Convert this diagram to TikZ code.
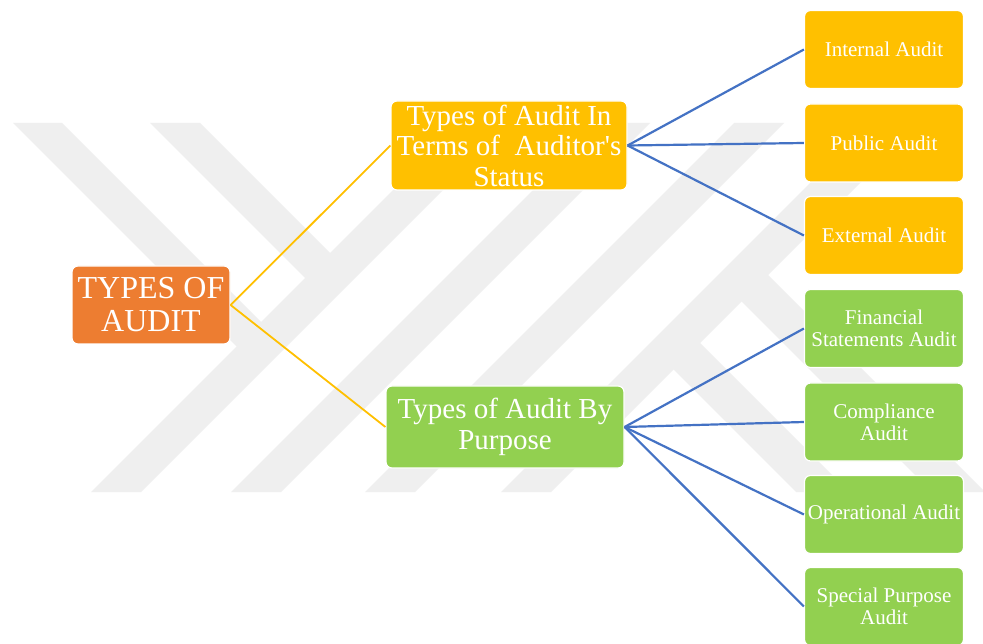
\documentclass[tikz,border=0pt]{standalone}
\usepackage{fontspec}
\setmainfont{Liberation Serif}
\definecolor{wmgray}{RGB}{239,239,239}
\definecolor{rootfill}{RGB}{237,125,49}
\definecolor{statusfill}{RGB}{255,192,0}
\definecolor{purposefill}{RGB}{146,208,80}
\definecolor{linkblue}{RGB}{68,114,196}
\begin{document}
\begin{tikzpicture}[x=1pt,y=-1pt,
  box/.style={draw=white, line width=1.2pt, rounded corners=6pt, text=white,
    align=center, inner sep=0pt},
  rootbox/.style={box, fill=rootfill, minimum width=158pt, minimum height=78pt,
    font=\fontsize{32}{33}\selectfont},
  midbox/.style={box, minimum height=86pt, font=\fontsize{29}{30.5}\selectfont},
  leaf/.style={box, minimum width=159pt, minimum height=78pt,
    font=\fontsize{21}{22}\selectfont},
  trunk/.style={draw=statusfill, line width=1.8pt},
  branch/.style={draw=linkblue, line width=2.2pt}
]
\useasboundingbox (0,0) rectangle (983,644);
\fill[white] (0,0) rectangle (983,644);

% faint striped emblem in the background
\begin{scope}[wmgray]
  % long bands rising to the right
  \fill (91,492) -- (141,492) -- (510,123) -- (460,123) -- cycle;
  \fill (231,492) -- (281,492) -- (650,123) -- (600,123) -- cycle;
  \fill (365,492) -- (415,492) -- (784,123) -- (734,123) -- cycle;
  \fill (501,492) -- (551,492) -- (920,123) -- (870,123) -- cycle;
  % bands falling to the right, left part
  \fill (13,123) -- (62,123) -- (269.5,330.5) -- (245,355) -- cycle;
  \fill (150,123) -- (200,123) -- (338.5,261.5) -- (313.5,286.5) -- cycle;
  % bands falling to the right, right part
  \fill (756.5,263.5) -- (983,490) -- (983,492) -- (932,492) -- (730,290) -- cycle;
  \fill (688.5,331.5) -- (849,492) -- (796,492) -- (662,358) -- cycle;
\end{scope}

% nodes
\node[rootbox] (root) at (151,305) {TYPES OF\\AUDIT};
\node[midbox, fill=statusfill, minimum width=236pt, minimum height=89pt] (status) at (509,145.5)
  {Types of Audit In\\Terms of\ \ Auditor\textquotesingle s\\Status};
\node[midbox, fill=purposefill, minimum width=238pt, minimum height=82pt] (purpose) at (505,427)
  {Types of Audit By\\Purpose};

\node[leaf, fill=statusfill] (internal) at (884,49.5) {Internal Audit};
\node[leaf, fill=statusfill] (public) at (884,143) {Public Audit};
\node[leaf, fill=statusfill] (external) at (884,235.5) {External Audit};

\node[leaf, fill=purposefill] (financial) at (884,328.5) {Financial\\Statements Audit};
\node[leaf, fill=purposefill] (compliance) at (884,422) {Compliance\\Audit};
\node[leaf, fill=purposefill] (operational) at (884,514.5) {Operational Audit};
\node[leaf, fill=purposefill] (special) at (884,606.5) {Special Purpose\\Audit};

% connectors
\draw[trunk] (root.east) -- (status.west);
\draw[trunk] (root.east) -- (purpose.west);

\draw[branch] (status.east) -- (internal.west);
\draw[branch] (status.east) -- (public.west);
\draw[branch] (status.east) -- (external.west);

\draw[branch] (purpose.east) -- (financial.west);
\draw[branch] (purpose.east) -- (compliance.west);
\draw[branch] (purpose.east) -- (operational.west);
\draw[branch] (purpose.east) -- (special.west);
\end{tikzpicture}
\end{document}
